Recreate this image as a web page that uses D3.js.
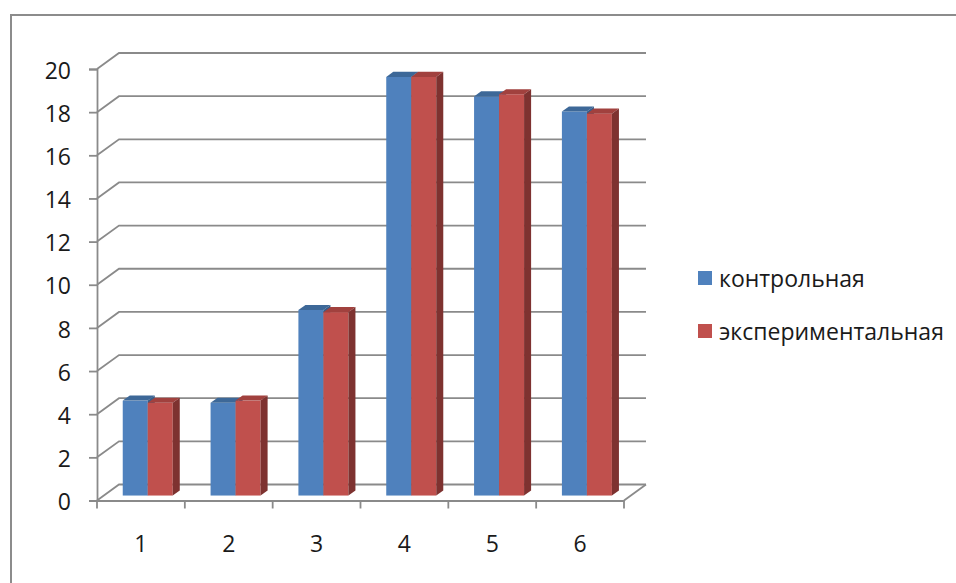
<!DOCTYPE html>
<html>
<head>
<meta charset="utf-8">
<script src="https://cdn.jsdelivr.net/npm/d3@7"></script>
<style>
  html, body { margin: 0; padding: 0; background: #fff; }
  svg { display: block; }
  text { font-family: "Open Sans", sans-serif; fill: #1a1a1a; }
</style>
</head>
<body>
<svg id="chart" width="956" height="583"></svg>
<script>
// ---- data ----
const categories = ["1", "2", "3", "4", "5", "6"];
const seriesNames = ["контрольная", "экспериментальная"];
const control = [4.4, 4.3, 8.6, 19.4, 18.5, 17.8];
const experimental = [4.3, 4.4, 8.5, 19.4, 18.6, 17.7];
const yTicks = [0, 2, 4, 6, 8, 10, 12, 14, 16, 18, 20];

// ---- styles ----
const frontColors = ["#4f81bd", "#c0504d"];
const topColors = ["#3d6898", "#a1413e"];
const sideColors = ["#375d8a", "#7e3230"];
const gridColor = "#8a8a8a";
const fontSize = 23;

const svg = d3.select("#chart");

// outer frame
svg.append("rect")
  .attr("x", 11).attr("y", 15).attr("width", 1000).attr("height", 700)
  .attr("fill", "none").attr("stroke", "#8c8c8c").attr("stroke-width", 2);

// plot geometry
const left = 97, right = 624, base = 500.5, topY = 69;
const D = { dx: 22, dy: -16 };   // depth of the wall/floor
const f0 = 0.31, fd = 0.32;      // bar plane start and bar depth (fraction)

const y = d3.scaleLinear().domain([0, 20]).range([base, topY]);
const x = d3.scaleBand().domain(categories).range([left, right]).padding(0);
const xs = d3.scaleBand().domain(seriesNames).range([0, x.bandwidth()]).paddingInner(0).paddingOuter(0.757);

const g = svg.append("g");

// gridlines on back wall with diagonal from front axis
g.selectAll("path.grid").data(yTicks).enter().append("path")
  .attr("class", "grid")
  .attr("d", d => {
    const yy = y(d);
    return `M${left},${yy}L${left + D.dx},${yy + D.dy}L${right + D.dx},${yy + D.dy}`;
  })
  .attr("fill", "none").attr("stroke", gridColor).attr("stroke-width", 1.8);

// floor right edge
g.append("path")
  .attr("d", `M${right},${base}L${right + D.dx},${base + D.dy}`)
  .attr("fill", "none").attr("stroke", gridColor).attr("stroke-width", 1.8);

// bars
const seriesVals = [control, experimental];
const bdx = D.dx * fd, bdy = D.dy * fd;
const ox = D.dx * f0, oy = D.dy * f0;
categories.forEach((c, i) => {
  seriesNames.forEach((s, k) => {
    const v = seriesVals[k][i];
    const x0 = x(c) + xs(s) + ox;
    const w = xs.bandwidth();
    const yt = y(v) + oy;
    const yb = y(0) + oy;
    const bg = g.append("g");
    bg.append("rect").attr("x", x0).attr("y", yt).attr("width", w).attr("height", yb - yt)
      .attr("fill", frontColors[k]);
    bg.append("path")
      .attr("d", `M${x0},${yt}L${x0 + w},${yt}L${x0 + w + bdx},${yt + bdy}L${x0 + bdx},${yt + bdy}Z`)
      .attr("fill", topColors[k]);
    bg.append("path")
      .attr("d", `M${x0 + w},${yt}L${x0 + w + bdx},${yt + bdy}L${x0 + w + bdx},${yb + bdy}L${x0 + w},${yb}Z`)
      .attr("fill", sideColors[k]);
  });
});

// y axis (front)
const yAxis = d3.axisLeft(y).tickValues(yTicks).tickSize(8).tickPadding(18).tickFormat(d3.format("d"));
const ya = svg.append("g").attr("transform", `translate(${left},0)`).call(yAxis);
ya.select(".domain").attr("stroke", gridColor).attr("stroke-width", 1.8);
ya.selectAll(".tick line").attr("stroke", gridColor).attr("stroke-width", 1.8);
ya.selectAll(".tick text").attr("font-size", fontSize).attr("font-family", "Open Sans").attr("fill", "#1a1a1a").attr("dy", "0.40em");

// x axis (front)
const xAxis = d3.axisBottom(x).tickSize(0).tickPadding(35);
const xa = svg.append("g").attr("transform", `translate(0,${base})`).call(xAxis);
xa.select(".domain").attr("stroke", gridColor).attr("stroke-width", 1.8);
xa.selectAll(".tick text").attr("font-size", fontSize).attr("font-family", "Open Sans").attr("fill", "#1a1a1a");
// boundary ticks
const bounds = categories.map(c => x(c)).concat([right]);
xa.selectAll("line.bt").data(bounds).enter().append("line")
  .attr("class", "bt")
  .attr("x1", d => d).attr("x2", d => d).attr("y1", 0).attr("y2", 8)
  .attr("stroke", gridColor).attr("stroke-width", 1.8);

// legend
const legend = svg.append("g").attr("transform", "translate(698,271)");
const li = legend.selectAll("g").data(seriesNames).enter().append("g")
  .attr("transform", (d, i) => `translate(0,${i * 53})`);
li.append("rect").attr("width", 14).attr("height", 14).attr("fill", (d, i) => frontColors[i]);
li.append("text").attr("x", 21).attr("y", 15.5).attr("font-size", fontSize).text(d => d);
</script>
</body>
</html>
